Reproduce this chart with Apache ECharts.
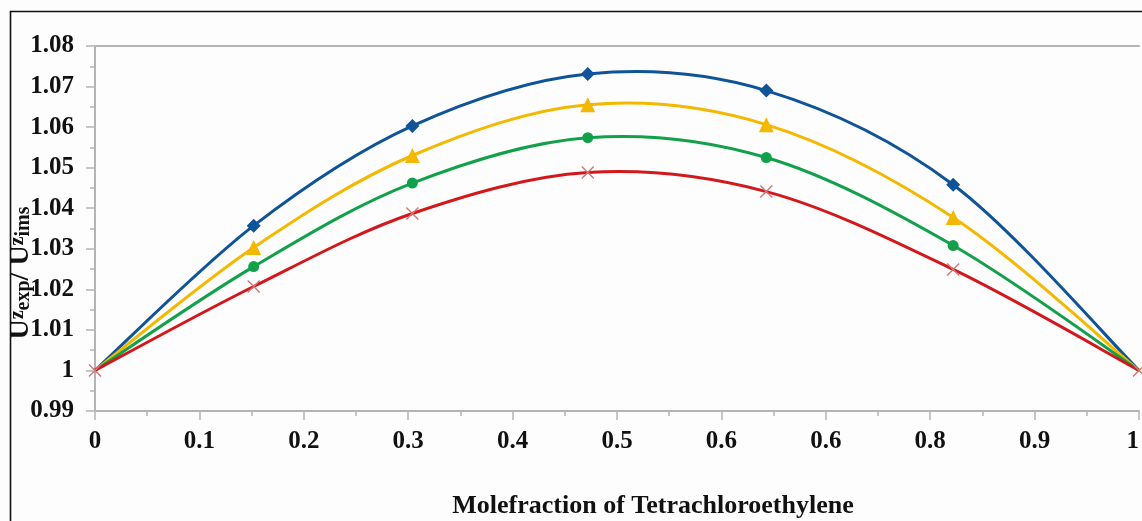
<!DOCTYPE html>
<html>
<head>
<meta charset="utf-8">
<script src="https://cdn.jsdelivr.net/npm/echarts@6/dist/echarts.min.js"></script>
<style>
    html, body { margin: 0; padding: 0; background: #fdfdfd; }
    #chart { width: 1142px; height: 521px; }
</style>
</head>
<body>
<div id="chart"></div>
<script>
// molefraction values (x)
const xValues = [0, 0.152, 0.304, 0.472, 0.643, 0.822, 1]

// U^z_exp / U^z_ims for each series
const blueValues = [1, 1.0357, 1.0603, 1.0731, 1.0690, 1.0458, 1]
const yellowValues = [1, 1.0303, 1.0530, 1.0655, 1.0606, 1.0377, 1]
const greenValues = [1, 1.0256, 1.0462, 1.0574, 1.0525, 1.0308, 1]
const redValues = [1, 1.0207, 1.0387, 1.0488, 1.0441, 1.0249, 1]

// tick labels as printed on the original
const xTickLabels = ['0', '0.1', '0.2', '0.3', '0.4', '0.5', '0.6', '0.6', '0.8', '0.9', '1']
const yTickLabels = ['0.99', '1', '1.01', '1.02', '1.03', '1.04', '1.05', '1.06', '1.07', '1.08']

const serif = '"Liberation Serif", "Times New Roman", serif'
const labelFont = { fontFamily: serif, fontWeight: 'bold', color: '#111' }
const axisGray = '#b4b4b4'

const toPairs = (vals) => xValues.map((x, i) => [x, vals[i]])

// smooth curve (Catmull-Rom style, like a spreadsheet "smoothed line"),
// points are mapped through the chart's own axes with api.coord
const makeCurve = (vals, color) => ({
    type: 'custom',
    data: [[xValues[0], vals[0]]],
    z: 2,
    silent: true,
    renderItem: (params, api) => {
        const p = xValues.map((x, i) => api.coord([x, vals[i]]))
        const n = p.length
        let d = 'M' + p[0][0] + ',' + p[0][1]
        for (let i = 0; i < n - 1; i++) {
            const p0 = p[Math.max(i - 1, 0)]
            const p1 = p[i]
            const p2 = p[i + 1]
            const p3 = p[Math.min(i + 2, n - 1)]
            const c1x = p1[0] + (p2[0] - p0[0]) / 6
            const c1y = p1[1] + (p2[1] - p0[1]) / 6
            const c2x = p2[0] - (p3[0] - p1[0]) / 6
            const c2y = p2[1] - (p3[1] - p1[1]) / 6
            d += ' C' + c1x + ',' + c1y + ' ' + c2x + ',' + c2y + ' ' + p2[0] + ',' + p2[1]
        }
        return {
            type: 'path',
            shape: { pathData: d },
            style: { fill: 'none', stroke: color, lineWidth: 3 }
        }
    }
})

// markers; the end points at 0 and 1 only show the red cross
const makeMarkers = (pairs, color, symbol, symbolSize, extra) => ({
    type: 'scatter',
    data: pairs,
    symbol,
    symbolSize,
    itemStyle: Object.assign({ color, opacity: 1 }, extra || {}),
    z: 3
})

const chart = echarts.init(document.getElementById('chart'))

chart.setOption({
    backgroundColor: '#fdfdfd',
    animation: false,
    grid: { left: 95, right: 3, top: 46, bottom: 110, outerBoundsMode: 'none' },
    xAxis: [{
        type: 'value',
        min: 0,
        max: 1,
        interval: 0.1,
        axisLine: { show: true, lineStyle: { color: axisGray, width: 2 } },
        axisTick: { show: true, length: 9, lineStyle: { color: axisGray, width: 1.5 } },
        minorTick: { show: true, splitNumber: 2, length: 5, lineStyle: { color: axisGray, width: 1.5 } },
        splitLine: { show: false },
        axisLabel: Object.assign({
            fontSize: 25,
            margin: 18,
            alignMaxLabel: 'right',
            formatter: (v) => xTickLabels[Math.round(v * 10)]
        }, labelFont)
    }, {
        // top border of the plot
        type: 'value',
        position: 'top',
        min: 0,
        max: 1,
        axisLine: { show: true, lineStyle: { color: axisGray, width: 2 } },
        axisTick: { show: false },
        axisLabel: { show: false },
        splitLine: { show: false }
    }],
    yAxis: {
        type: 'value',
        min: 0.99,
        max: 1.08,
        interval: 0.01,
        axisLine: { show: true, lineStyle: { color: axisGray, width: 2 } },
        axisTick: { show: true, length: 9, lineStyle: { color: axisGray, width: 1.5 } },
        minorTick: { show: true, splitNumber: 2, length: 5, lineStyle: { color: axisGray, width: 1.5 } },
        splitLine: { show: false },
        axisLabel: Object.assign({
            fontSize: 25,
            margin: 21,
            formatter: (v) => yTickLabels[Math.round((v - 0.99) * 100)]
        }, labelFont)
    },
    graphic: [{
        type: 'rect',
        shape: { x: 10.5, y: 11.5, width: 1200, height: 600 },
        style: { fill: 'none', stroke: '#111', lineWidth: 1.6 },
        silent: true
    }, {
        type: 'text',
        x: 653,
        y: 506,
        style: {
            text: 'Molefraction of Tetrachloroethylene',
            fontSize: 26,
            fontFamily: serif,
            fontWeight: 'bold',
            fill: '#111',
            align: 'center',
            verticalAlign: 'middle'
        }
    }, {
        type: 'text',
        x: 21,
        y: 273,
        rotation: Math.PI / 2,
        style: {
            text: '{u|U}{sup|z}{sub|exp}{u|/ U}{sup|z}{sub|ims}',
            align: 'center',
            verticalAlign: 'middle',
            rich: {
                u: { fontSize: 28, fontFamily: serif, fontWeight: 'bold', fill: '#111', lineHeight: 26, verticalAlign: 'middle' },
                sup: { fontSize: 20, fontFamily: serif, fontWeight: 'bold', fill: '#111', lineHeight: 26, verticalAlign: 'top', padding: [0, 0, 5, 0] },
                sub: { fontSize: 20, fontFamily: serif, fontWeight: 'bold', fill: '#111', lineHeight: 26, verticalAlign: 'bottom', padding: [3, 0, 0, 0] }
            }
        }
    }],
    series: [
        makeCurve(blueValues, '#0f5497'),
        makeCurve(yellowValues, '#f4b800'),
        makeCurve(greenValues, '#13a04a'),
        makeCurve(redValues, '#d3181c'),
        makeMarkers(toPairs(blueValues).slice(1, -1), '#0f5497', 'diamond', 14),
        makeMarkers(toPairs(yellowValues).slice(1, -1), '#f4b800', 'triangle', 15),
        makeMarkers(toPairs(greenValues).slice(1, -1), '#13a04a', 'circle', 11),
        makeMarkers(toPairs(redValues), '#d3181c', 'path://M0,0L10,10M10,0L0,10', 12,
            { color: 'transparent', borderColor: '#d27676', borderWidth: 1.4 })
    ]
})
</script>
</body>
</html>
